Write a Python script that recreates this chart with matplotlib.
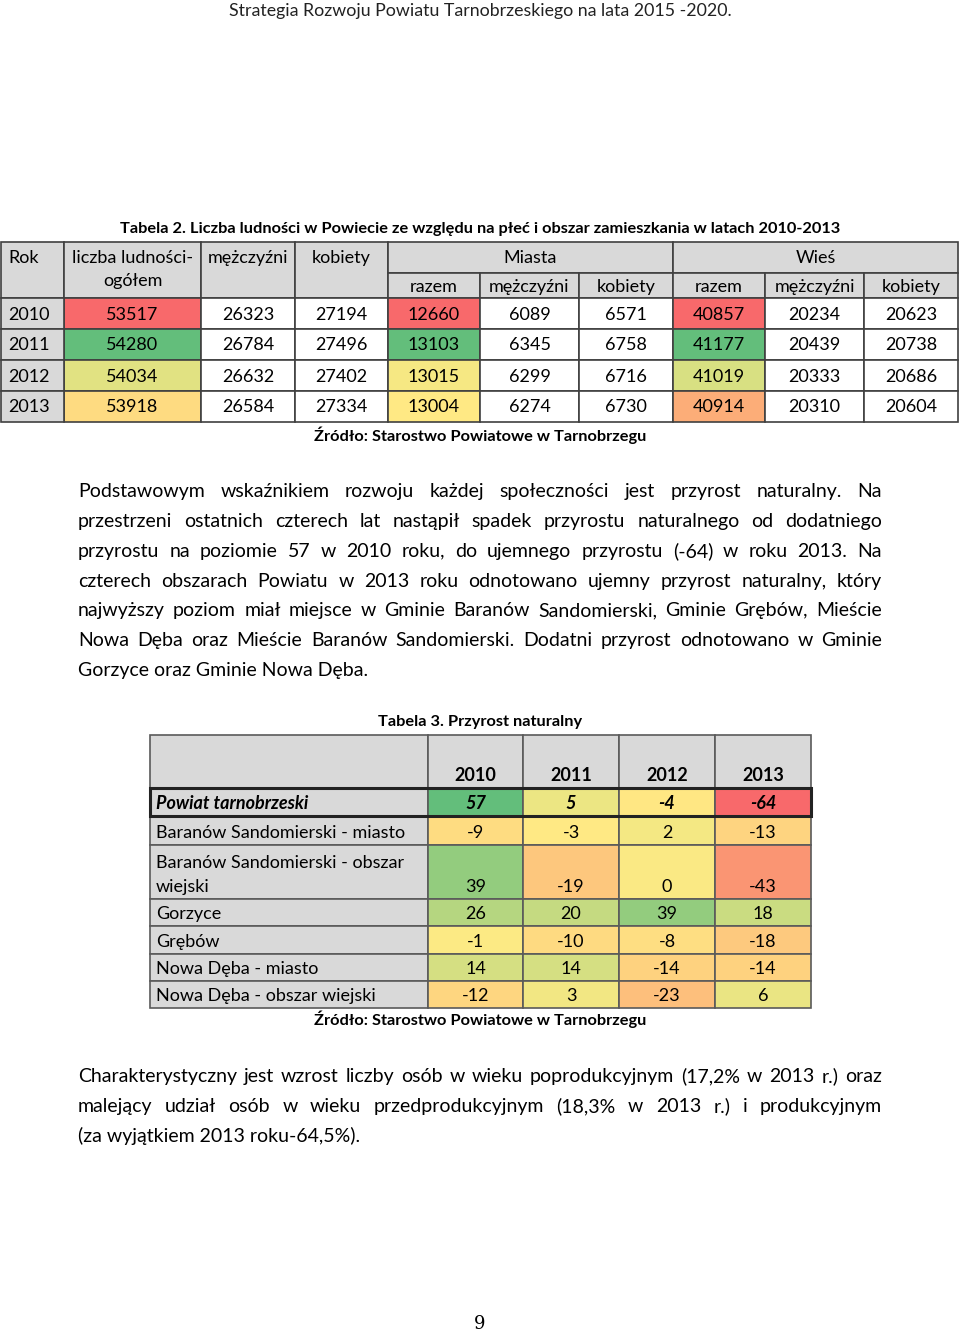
import matplotlib
matplotlib.use("Agg")
import matplotlib.pyplot as plt
from matplotlib.patches import Rectangle
from matplotlib.colors import to_hex
import numpy as np

plt.rcParams['font.family'] = ['Lato', 'DejaVu Sans']

# --- Tabela 2 data ---
years = ["2010", "2011", "2012", "2013"]
ogolem = [53517, 54280, 54034, 53918]
mezczyzni = [26323, 26784, 26632, 26584]
kobiety = [27194, 27496, 27402, 27334]
miasta_razem = [12660, 13103, 13015, 13004]
miasta_m = [6089, 6345, 6299, 6274]
miasta_k = [6571, 6758, 6716, 6730]
wies_razem = [40857, 41177, 41019, 40914]
wies_m = [20234, 20439, 20333, 20310]
wies_k = [20623, 20738, 20686, 20604]

# --- Tabela 3 data ---
gminy = ["Powiat tarnobrzeski", "Baranów Sandomierski - miasto",
         "Baranów Sandomierski - obszar\nwiejski", "Gorzyce", "Grębów",
         "Nowa Dęba - miasto", "Nowa Dęba - obszar wiejski"]
lata3 = ["2010", "2011", "2012", "2013"]
p2010 = [57, -9, 39, 26, -1, 14, -12]
p2011 = [5, -3, -19, 20, -10, 14, 3]
p2012 = [-4, 2, 0, 39, -8, -14, -23]
p2013 = [-64, -13, -43, 18, -18, -14, 6]

para1 = [
    "Podstawowym wskaźnikiem rozwoju każdej społeczności jest przyrost naturalny. Na",
    "przestrzeni ostatnich czterech lat nastąpił spadek przyrostu naturalnego od dodatniego",
    "przyrostu na poziomie 57 w 2010 roku, do ujemnego przyrostu (-64) w roku 2013. Na",
    "czterech obszarach Powiatu w 2013 roku odnotowano ujemny przyrost naturalny, który",
    "najwyższy poziom miał miejsce w Gminie Baranów Sandomierski, Gminie Grębów, Mieście",
    "Nowa Dęba oraz Mieście Baranów Sandomierski. Dodatni przyrost odnotowano w Gminie",
    "Gorzyce oraz Gminie Nowa Dęba.",
]
para2 = [
    "Charakterystyczny jest wzrost liczby osób w wieku poprodukcyjnym (17,2% w 2013 r.) oraz",
    "malejący udział osób w wieku przedprodukcyjnym (18,3% w 2013 r.) i produkcyjnym",
    "(za wyjątkiem 2013 roku-64,5%).",
]

RED = np.array([248, 105, 107]) / 255
YEL = np.array([255, 235, 132]) / 255
GRN = np.array([99, 190, 123]) / 255
GRAY = "#d9d9d9"


def color_scale(vals, lo, mid, hi):
    out = []
    for v in vals:
        if v <= mid:
            t = 0 if mid == lo else (v - lo) / (mid - lo)
            c = RED + t * (YEL - RED)
        else:
            t = (v - mid) / (hi - mid)
            c = YEL + t * (GRN - YEL)
        out.append(to_hex(np.clip(c, 0, 1)))
    return out


def col_colors(vals):
    return color_scale(vals, min(vals), float(np.median(vals)), max(vals))


fig = plt.figure(figsize=(9.6, 13.34), dpi=100)
ax = fig.add_axes([0, 0, 1, 1])
ax.set_xlim(0, 960)
ax.set_ylim(1334, 0)
ax.axis("off")
renderer = fig.canvas.get_renderer()


def cell(x0, x1, y0, y1, fc="white", lc="#404040", lw=1.2):
    ax.add_patch(Rectangle((x0, y0), x1 - x0, y1 - y0, facecolor=fc,
                           edgecolor=lc, linewidth=lw))


def txt(x, y, s, ha="center", **kw):
    kw.setdefault("fontsize", 13)
    return ax.text(x, y, s, ha=ha, va="baseline", **kw)


# header
txt(480, 16, "Strategia Rozwoju Powiatu Tarnobrzeskiego na lata 2015 -2020.",
    fontsize=12.8, color="#222222")

# ---------------- Tabela 2 ----------------
txt(480, 233, "Tabela 2. Liczba ludności w Powiecie ze względu na płeć i obszar zamieszkania w latach 2010-2013",
    fontsize=11.8, fontweight="bold")

xs = [1, 64, 201, 295, 388, 480, 579, 673, 765, 864, 958]
top, mid_h, bot = 242, 273, 298
row_y = [298, 329, 360, 391, 422]

for i in range(4):
    cell(xs[i], xs[i + 1], top, bot, GRAY)
cell(xs[4], xs[7], top, mid_h, GRAY)
cell(xs[7], xs[10], top, mid_h, GRAY)
for i in range(4, 10):
    cell(xs[i], xs[i + 1], mid_h, bot, GRAY)

txt(8, 263, "Rok", ha="left")
txt((xs[1] + xs[2]) / 2, 263, "liczba ludności-")
txt((xs[1] + xs[2]) / 2, 286, "ogółem")
txt((xs[2] + xs[3]) / 2, 263, "mężczyźni")
txt((xs[3] + xs[4]) / 2, 263, "kobiety")
txt((xs[4] + xs[7]) / 2, 263, "Miasta")
txt((xs[7] + xs[10]) / 2, 263, "Wieś")
for i, lab in enumerate(["razem", "mężczyźni", "kobiety"] * 2):
    txt((xs[4 + i] + xs[5 + i]) / 2, 292, lab)

cols2 = [ogolem, mezczyzni, kobiety, miasta_razem, miasta_m, miasta_k,
         wies_razem, wies_m, wies_k]
scaled = {0, 3, 6}
for c, vals in enumerate(cols2):
    fcs = col_colors(vals) if c in scaled else ["white"] * len(vals)
    for r, v in enumerate(vals):
        cell(xs[c + 1], xs[c + 2], row_y[r], row_y[r + 1], fcs[r])
        txt((xs[c + 1] + xs[c + 2]) / 2, row_y[r] + 21.5, str(v))
for r, y in enumerate(years):
    cell(xs[0], xs[1], row_y[r], row_y[r + 1], GRAY)
    txt(8, row_y[r] + 21.5, y, ha="left")

txt(480, 441, "Źródło: Starostwo Powiatowe w Tarnobrzegu", fontsize=11.8, fontweight="bold")


# ---------------- justified paragraphs ----------------
def justified(lines, y0, step, x0=78, x1=882, fs=14):
    for k, line in enumerate(lines):
        y = y0 + k * step
        words = line.split(" ")
        if k == len(lines) - 1:
            txt(x0, y, line, ha="left", fontsize=fs)
            continue
        ts = [txt(0, y, w, ha="left", fontsize=fs) for w in words]
        ws = [t.get_window_extent(renderer).width for t in ts]
        gap = (x1 - x0 - sum(ws)) / (len(words) - 1)
        x = x0
        for t, w in zip(ts, ws):
            t.set_x(x)
            x += w + gap


justified(para1, 497, 29.85)

# ---------------- Tabela 3 ----------------
txt(480, 726, "Tabela 3. Przyrost naturalny", fontsize=11.8, fontweight="bold")

xs3 = [150, 428, 523, 619, 715, 811]
ys3 = [735, 788, 816, 845, 899, 926, 954, 981, 1008]
lc3 = "#5a5a5a"
allv = p2010 + p2011 + p2012 + p2013
lo, hi, md = min(allv), max(allv), float(np.median(allv))

cell(xs3[0], xs3[1], ys3[0], ys3[1], GRAY, lc3)
for j, yr in enumerate(lata3):
    cell(xs3[j + 1], xs3[j + 2], ys3[0], ys3[1], GRAY, lc3)
    txt((xs3[j + 1] + xs3[j + 2]) / 2, ys3[1] - 7, yr, fontweight="bold")

series3 = [p2010, p2011, p2012, p2013]
for i, g in enumerate(gminy):
    y0, y1 = ys3[i + 1], ys3[i + 2]
    cell(xs3[0], xs3[1], y0, y1, GRAY, lc3)
    bold = i == 0
    style = dict(fontweight="bold" if bold else "normal",
                 style="italic" if bold else "normal")
    parts = g.split("\n")
    for k, part in enumerate(parts):
        txt(156, y1 - 7 - 24 * (len(parts) - 1 - k), part, ha="left", **style)
    fcs = color_scale([s[i] for s in series3], lo, md, hi)
    for j, s in enumerate(series3):
        cell(xs3[j + 1], xs3[j + 2], y0, y1, fcs[j], lc3)
        txt((xs3[j + 1] + xs3[j + 2]) / 2, y1 - 7, str(s[i]), **style)

# thick outline of the Powiat row
ax.add_patch(Rectangle((xs3[0], ys3[1]), xs3[-1] - xs3[0], ys3[2] - ys3[1],
                       facecolor="none", edgecolor="#222222", linewidth=2.2))

txt(480, 1025, "Źródło: Starostwo Powiatowe w Tarnobrzegu", fontsize=11.8, fontweight="bold")

justified(para2, 1082, 29.85)

txt(480, 1329, "9", fontsize=13, family="DejaVu Serif")

fig.savefig("out.png", dpi=100)
